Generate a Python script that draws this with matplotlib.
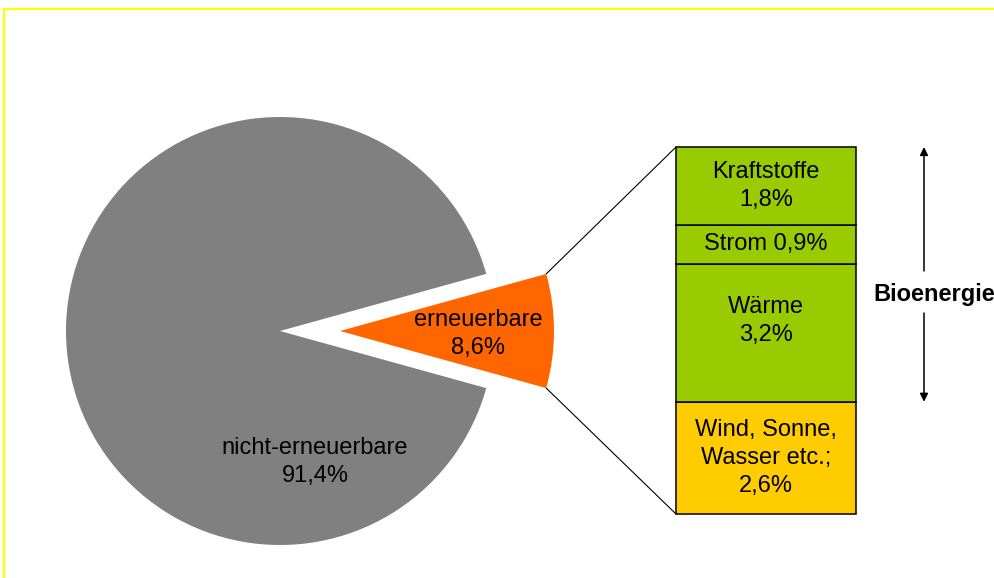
import numpy as np
import matplotlib
matplotlib.use("Agg")
import matplotlib.pyplot as plt
from matplotlib.patches import Rectangle, ConnectionPatch

plt.rcParams['font.family'] = ['Liberation Sans', 'DejaVu Sans']

# data
pie_labels = ["erneuerbare\n8,6%", "nicht-erneuerbare\n91,4%"]
pie_values = [8.6, 91.4]
pie_colors = ["#FF6600", "#808080"]

bar_labels = ["Wind, Sonne,\nWasser etc.;\n2,6%", "Wärme\n3,2%", "Strom 0,9%", "Kraftstoffe\n1,8%"]
bar_values = [2.6, 3.2, 0.9, 1.8]
bar_colors = ["#FFCC00", "#99CC00", "#99CC00", "#99CC00"]
bar_label_shift = [0.0, 0.26, 0.0, 0.0]
bio_label = "Bioenergie"

W, H = 995, 578
fig = plt.figure(figsize=(W / 100, H / 100), dpi=100)
ax = fig.add_axes([0, 0, 1, 1])

cx, cy, r = 280, H - 331, 214
explode_px = 60
half = pie_values[0] / 100 * 360 / 2
wedges, _ = ax.pie(pie_values, colors=pie_colors, startangle=-half, counterclock=True,
                   center=(cx, cy), radius=r, explode=[explode_px, 0],
                   wedgeprops=dict(linewidth=0))
ax.set_xlim(0, W)
ax.set_ylim(0, H)
ax.set_aspect('auto')
ax.axis('off')

fs = 17
ls = 1.36
ax.text(478, H - 334, pie_labels[0], ha='center', va='center', fontsize=fs, linespacing=ls)
ax.text(315, H - 462, pie_labels[1], ha='center', va='center', fontsize=fs, linespacing=ls)

# border
ax.add_patch(Rectangle((3.5, -20), W + 50, H - 8.5 + 20, fill=False, edgecolor="#FFFF00",
                       linewidth=1.6, clip_on=False))

# bar axes
bx0, bx1, by_top, by_bot = 676, 856, 147, 514
bax = fig.add_axes([bx0 / W, (H - by_bot) / H, (bx1 - bx0) / W, (by_bot - by_top) / H])
total = sum(bar_values)
bottoms = np.concatenate([[0], np.cumsum(bar_values)[:-1]])
bars = bax.bar(0, bar_values, bottom=bottoms, width=1, color=bar_colors,
               edgecolor='black', linewidth=1.1)
for b in bars:
    b.set_clip_on(False)
bax.set_xlim(-0.5, 0.5)
bax.set_ylim(0, total)
bax.axis('off')
for lab, v, b0, sh in zip(bar_labels, bar_values, bottoms, bar_label_shift):
    bax.text(0, b0 + v / 2 + sh, lab, ha='center', va='center', fontsize=fs, linespacing=ls)

# connector lines
ang = np.deg2rad(half)
ox = cx + explode_px + r * np.cos(ang)
for sgn, by in [(1, total), (-1, 0)]:
    oy = cy + sgn * r * np.sin(ang)
    con = ConnectionPatch(xyA=(ox, oy), coordsA=ax.transData, xyB=(-0.5, by), coordsB=bax.transData,
                          color='black', linewidth=0.8)
    fig.add_artist(con)

# bioenergie arrow
bio_top = total
bio_bot = bar_values[0]
ax_x = 924
ytxt = H - 294
top_pix = H - (by_top + (total - bio_top) / total * (by_bot - by_top))
bot_pix = H - (by_top + (total - bio_bot) / total * (by_bot - by_top))
ax.annotate("", xy=(ax_x, top_pix), xytext=(ax_x, H - 271),
            arrowprops=dict(arrowstyle='-|>', color='black', lw=1.1, mutation_scale=12, shrinkA=0, shrinkB=0))
ax.annotate("", xy=(ax_x, bot_pix), xytext=(ax_x, H - 313),
            arrowprops=dict(arrowstyle='-|>', color='black', lw=1.1, mutation_scale=12, shrinkA=0, shrinkB=0))
ax.text(934, ytxt, bio_label, ha='center', va='center', fontsize=fs, fontweight='bold')

fig.savefig("out.png", dpi=100)
